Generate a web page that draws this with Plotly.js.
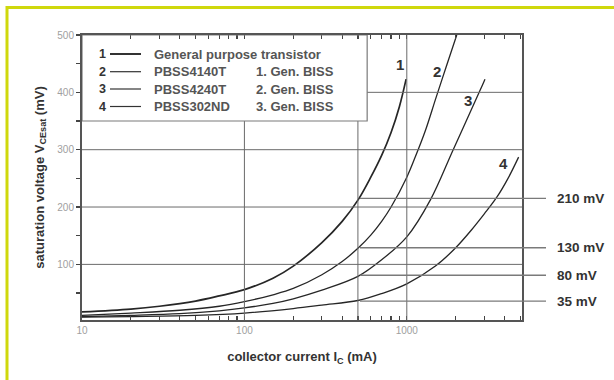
<!DOCTYPE html>
<html>
<head>
<meta charset="utf-8">
<script src="https://cdn.plot.ly/plotly-3.0.1.min.js"></script>
<style>html,body{margin:0;padding:0;background:#fff;}#chart{width:614px;height:380px;}</style>
</head>
<body>
<div id="chart"></div>
<script>
// ---- data (collector current in mA, saturation voltage in mV) ----
const current1 = [10,20,30,50,70,100,150,200,300,400,500,600,700,800,900,990];
const vce1     = [17,22,27,36,45,56,76,97,138,175,212,252,290,330,375,423];
const current2 = [10,20,40,70,100,150,200,300,400,500,600,700,800,1000,1130,1300,1510,1750,2030];
const vce2     = [11,15,20,27,35,47,58,82,105,128,151,175,200,252,288,333,390,445,500];
const current3 = [10,20,40,70,100,150,200,300,500,700,1000,1400,1930,2790,3030];
const vce3     = [9,11,14,19,24,32,40,55,79,108,148,213,300,400,423];
const current4 = [10,20,50,100,200,300,500,700,1000,1500,2000,2500,3000,3600,4200,4880];
const vce4     = [8,9,11,15,23,29,37,49,66,97,129,160,188,218,250,287];

const curveNames = ['General purpose transistor','PBSS4140T','PBSS4240T','PBSS302ND'];
const curveGen   = ['', '1. Gen. BISS', '2. Gen. BISS', '3. Gen. BISS'];
const curveNums  = ['1','2','3','4'];
// curve number label positions (mA, mV)
const numLabelI = [912, 1535, 2394, 3917];
const numLabelV = [449, 437, 385, 276];

// reference levels marked at the right (mV) and their labels
const refLevels = [215, 129, 81, 36];
const refLabels = ['210 mV','130 mV','80 mV','35 mV'];

const xTickVals = [10,20,30,40,50,60,70,80,90,100,200,300,400,500,600,700,800,900,1000,2000,3000,4000,5000];
const xTickText = xTickVals.map(v => (v===10||v===100||v===1000) ? String(v) : '');
const yTickVals = [50,100,150,200,250,300,350,400,450,500];
const yTickText = yTickVals.map(v => v % 100 === 0 ? String(v) : '');

// ---- layout helpers ----
const FONT = 'Liberation Sans, Arial, sans-serif';
const L = 82, R = 522, T = 35, B = 320;
const px = x => (x - L) / (R - L);
const py = y => (B - y) / (B - T);

const xs = [current1, current2, current3, current4];
const ys = [vce1, vce2, vce3, vce4];
const traces = xs.map((x, i) => ({
  x: x, y: ys[i], type: 'scatter', mode: 'lines',
  line: {color: '#262626', width: i === 0 ? 1.7 : 1.3, shape: 'spline', smoothing: 1},
  name: curveNames[i], showlegend: false, hoverinfo: 'skip'
}));

const gridC = '#6a6a6a';
const shapes = [
  // yellow frame
  {type:'rect', xref:'paper', yref:'paper', x0:px(7), x1:px(640), y0:py(7.5), y1:py(420),
   line:{color:'#cfd80c', width:3}, fillcolor:'rgba(0,0,0,0)'},
  // grid lines
  {type:'line', xref:'x', yref:'y', x0:10, x1:5120, y0:100, y1:100, line:{color:gridC, width:1}},
  {type:'line', xref:'x', yref:'y', x0:10, x1:5120, y0:200, y1:200, line:{color:gridC, width:1}},
  {type:'line', xref:'x', yref:'y', x0:10, x1:5120, y0:300, y1:300, line:{color:gridC, width:1}},
  {type:'line', xref:'x', yref:'y', x0:570, x1:5120, y0:400, y1:400, line:{color:gridC, width:1}},
  {type:'line', xref:'x', yref:'y', x0:100, x1:100, y0:3, y1:350, line:{color:gridC, width:1}},
  {type:'line', xref:'x', yref:'y', x0:500, x1:500, y0:3, y1:350, line:{color:gridC, width:1}},
  {type:'line', xref:'x', yref:'y', x0:1000, x1:1000, y0:3, y1:500, line:{color:gridC, width:1}},
  // legend box
  {type:'rect', xref:'x', yref:'y', x0:10, x1:570, y0:350, y1:500,
   line:{color:'#7a7a7a', width:1.2}, fillcolor:'rgba(255,255,255,0)'}
];
// reference level lines
refLevels.forEach(v => shapes.push({type:'line', xref:'paper', yref:'y', x0:px(360), x1:px(546), y0:v, y1:v,
  line:{color:'#7a7a7a', width:1.3}}));
// legend line samples
const rowY = [54, 71.7, 89, 106.5];
rowY.forEach((y, i) => shapes.push({type:'line', xref:'paper', yref:'paper', x0:px(110), x1:px(141), y0:py(y), y1:py(y),
  line:{color:'#333', width: i === 0 ? 2 : 1.2}}));

const annotations = [];
rowY.forEach((y, i) => {
  annotations.push({xref:'paper', yref:'paper', x:px(102), y:py(y), text:curveNums[i], showarrow:false,
    xanchor:'center', yanchor:'middle', font:{family:FONT, size:12.5, color:'#333', weight:'bold'}});
  annotations.push({xref:'paper', yref:'paper', x:px(152), y:py(y), text:curveNames[i], showarrow:false,
    xanchor:'left', yanchor:'middle', font:{family:FONT, size:13, color:'#555', weight:'bold'}});
  if (curveGen[i]) annotations.push({xref:'paper', yref:'paper', x:px(254), y:py(y), text:curveGen[i], showarrow:false,
    xanchor:'left', yanchor:'middle', font:{family:FONT, size:13, color:'#555', weight:'bold'}});
});
numLabelI.forEach((I, i) => annotations.push({xref:'x', yref:'y', x:Math.log10(I), y:numLabelV[i], text:curveNums[i],
  showarrow:false, xanchor:'center', yanchor:'middle', font:{family:FONT, size:15, color:'#333', weight:'bold'}}));
refLevels.forEach((v, i) => annotations.push({xref:'paper', yref:'y', x:px(555), y:v, text:refLabels[i],
  showarrow:false, xanchor:'left', yanchor:'middle', font:{family:FONT, size:13.5, color:'#333', weight:'bold'}}));

const layout = {
  width: 614, height: 380,
  margin: {l: L, r: 614 - R, t: T, b: 380 - B},
  paper_bgcolor: '#ffffff', plot_bgcolor: '#ffffff',
  showlegend: false,
  xaxis: {
    type: 'log', range: [1, Math.log10(5120)],
    tickvals: xTickVals, ticktext: xTickText, tickangle: 0,
    ticks: 'inside', ticklen: 4, tickwidth: 1.2, tickcolor: '#444',
    showgrid: false, zeroline: false,
    showline: true, linecolor: '#555', linewidth: 2, mirror: 'ticks',
    tickfont: {family: FONT, size: 10, color: '#a0a0a0'},
    title: {text: 'collector current I<sub>C</sub> (mA)', standoff: 17,
            font: {family: FONT, size: 13, color: '#333', weight: 'bold'}}
  },
  yaxis: {
    range: [3, 500],
    tickvals: yTickVals, ticktext: yTickText, tickangle: 0,
    ticks: 'outside', ticklen: 4, tickwidth: 1.2, tickcolor: '#444',
    showgrid: false, zeroline: false,
    showline: true, linecolor: '#555', linewidth: 2, mirror: true,
    tickfont: {family: FONT, size: 10, color: '#a0a0a0'},
    title: {text: 'saturation voltage V<sub>CEsat</sub> (mV)', standoff: 10,
            font: {family: FONT, size: 13, color: '#333', weight: 'bold'}}
  },
  shapes: shapes,
  annotations: annotations
};

Plotly.newPlot('chart', traces, layout, {staticPlot: true, displayModeBar: false});
</script>
</body>
</html>
